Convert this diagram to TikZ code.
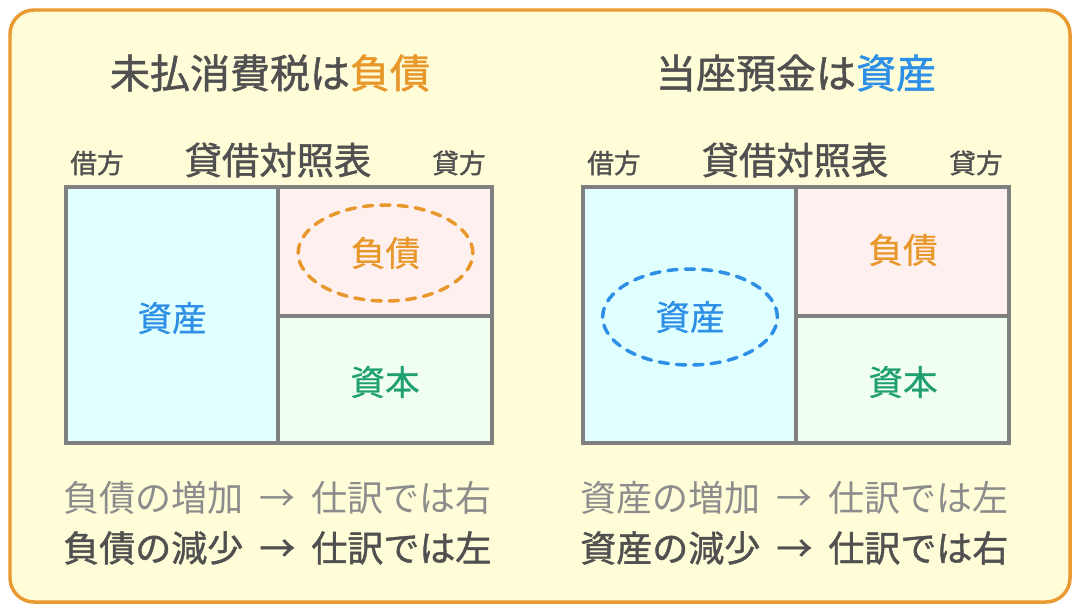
\documentclass[tikz,border=0pt]{standalone}
\usepackage{fontspec}
\setmainfont{Noto Sans CJK JP}
\newfontfamily\jpmed{Noto Sans CJK JP}[FakeBold=1.2]
\newfontfamily\jpsemi{Noto Sans CJK JP}[FakeBold=0.6]
\usetikzlibrary{shapes.geometric}
\definecolor{bgfill}{HTML}{FFFDD8}
\definecolor{frameor}{HTML}{E99A32}
\definecolor{gridgray}{HTML}{808080}
\definecolor{cyanfill}{HTML}{E0FFFF}
\definecolor{pinkfill}{HTML}{FFF0F0}
\definecolor{greenfill}{HTML}{F0FFF0}
\definecolor{bluetxt}{HTML}{2E8FE6}
\definecolor{orangetxt}{HTML}{E8982A}
\definecolor{greentxt}{HTML}{20A070}
\definecolor{darktxt}{HTML}{505050}
\definecolor{lighttxt}{HTML}{8C8C8C}
\newcommand{\arrowsep}{\hspace{6pt} → \hspace{6pt}}
\tikzset{
  lbl/.style={inner sep=0pt, anchor=center},
  title/.style={lbl, text=darktxt, font=\fontsize{30}{32}\jpmed},
  sheet/.style={lbl, text=darktxt, font=\fontsize{28}{30}\jpmed},
  side/.style={lbl, text=darktxt, font=\fontsize{20}{22}\jpmed},
  cell/.style={lbl, font=\fontsize{26}{28}\jpsemi},
  border/.style={draw=gridgray, line width=3pt},
  oval/.style={ellipse, draw, dashed, line width=2.6pt, line cap=round, dash pattern=on 7pt off 6pt, minimum width=131pt, minimum height=72pt, inner sep=0pt},
  note/.style={lbl, anchor=west, text=lighttxt, font=\fontsize{27}{29}\selectfont},
  notebold/.style={lbl, anchor=west, text=darktxt, font=\fontsize{27}{29}\jpmed},
}
\begin{document}
\begin{tikzpicture}[x=0.75pt,y=-0.75pt]
\useasboundingbox (0,0) rectangle (1080,612);
\fill[white] (0,0) rectangle (1080,612);
\draw[draw=frameor, fill=bgfill, line width=2.6pt, rounded corners=18pt] (10,10) rectangle (1070,602);

% ---------- left panel ----------
\node[title] (t1) at (270,73) {未払消費税は\textcolor{orangetxt}{負債}};
\node[side] (d1) at (97,163) {借方};
\node[sheet] (s1) at (278,160) {貸借対照表};
\node[side] (c1) at (459,163) {貸方};
\fill[cyanfill] (66,187) rectangle (278,443);
\fill[pinkfill] (278,187) rectangle (492,316);
\fill[greenfill] (278,316) rectangle (492,443);
\draw[border] (66,187) rectangle (492,443);
\draw[border] (278,187) -- (278,443);
\draw[border] (278,316) -- (492,316);
\node[cell, text=bluetxt] (a1) at (172,318) {資産};
\node[oval, draw=orangetxt, text=orangetxt, font=\fontsize{26}{28}\jpsemi] (l1) at (385.5,253) {負債};
\node[cell, text=greentxt] (e1) at (385,382) {資本};
\node[note] (n1) at (63,498) {負債の増加\arrowsep 仕訳では右};
\node[notebold] (m1) at (63,548) {負債の減少\arrowsep 仕訳では左};

% ---------- right panel ----------
\node[title] (t2) at (796,73) {当座預金は\textcolor{bluetxt}{資産}};
\node[side] (d2) at (614,163) {借方};
\node[sheet] (s2) at (795,160) {貸借対照表};
\node[side] (c2) at (976,163) {貸方};
\fill[cyanfill] (583,187) rectangle (796,443);
\fill[pinkfill] (796,187) rectangle (1009,316);
\fill[greenfill] (796,316) rectangle (1009,443);
\draw[border] (583,187) rectangle (1009,443);
\draw[border] (796,187) -- (796,443);
\draw[border] (796,316) -- (1009,316);
\node[oval, draw=bluetxt, text=bluetxt, font=\fontsize{26}{28}\jpsemi] (a2) at (690,317) {資産};
\node[cell, text=orangetxt] (l2) at (903,250) {負債};
\node[cell, text=greentxt] (e2) at (903,382) {資本};
\node[note] (n2) at (580,498) {資産の増加\arrowsep 仕訳では左};
\node[notebold] (m2) at (580,548) {資産の減少\arrowsep 仕訳では右};
\end{tikzpicture}
\end{document}
